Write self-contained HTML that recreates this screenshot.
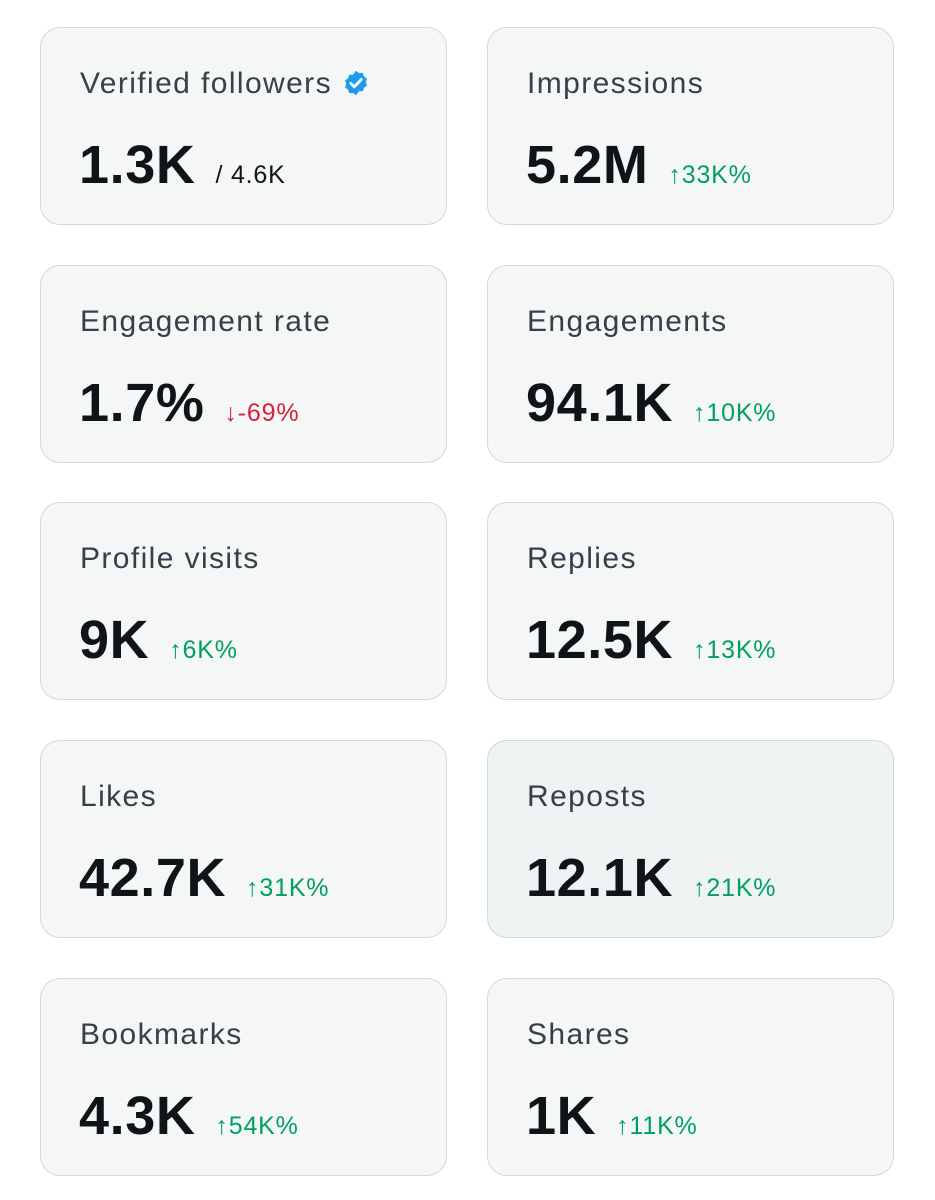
<!DOCTYPE html>
<html><head><meta charset="utf-8"><style>
body{margin:0;width:935px;height:1200px;background:#fff;font-family:"Liberation Sans",sans-serif;position:relative;overflow:hidden}
.card{position:absolute;width:405px;height:196px;border:1.5px solid #cfd9de;border-radius:20px;background:#f5f7f7;box-sizing:content-box}
.card.hl{background:#eff3f4}
.lbl{position:absolute;left:39px;top:41px;font-size:30px;letter-spacing:1.4px;color:#36404a;white-space:nowrap;line-height:1}
.row{position:absolute;left:38px;top:110px;white-space:nowrap;line-height:1;display:flex;align-items:baseline}
.val{font-size:54px;font-weight:bold;color:#0f1419;letter-spacing:0.6px}
.sub{font-size:25px;margin-left:20px;color:#0f1419;letter-spacing:0.8px}
.up{color:#00a15f}.down{color:#d6203a}
.badge{display:inline-block;vertical-align:-4px;margin-left:10px}
</style></head><body>
<div class="card" style="left:40px;top:27px">
 <div class="lbl">Verified followers<svg class="badge" width="28" height="28" viewBox="0 0 24 24"><path d="M12 1.5l2.6 1.9 3.2-.1 1 3 2.6 1.9-1 3 1 3-2.6 1.9-1 3-3.2-.1L12 22.5l-2.6-1.9-3.2.1-1-3-2.6-1.9 1-3-1-3 2.6-1.9 1-3 3.2.1z" fill="#1d9bf0"/><path d="M7.5 12.3l3 3 6-6.3" stroke="#fff" stroke-width="2.4" fill="none" stroke-linecap="round" stroke-linejoin="round"/></svg></div>
 <div class="row"><span class="val">1.3K</span><span class="sub">/ 4.6K</span></div>
</div>
<div class="card" style="left:487px;top:27px">
 <div class="lbl">Impressions</div>
 <div class="row"><span class="val">5.2M</span><span class="sub up">↑33K%</span></div>
</div>
<div class="card" style="left:40px;top:265px">
 <div class="lbl">Engagement rate</div>
 <div class="row"><span class="val">1.7%</span><span class="sub down">↓-69%</span></div>
</div>
<div class="card" style="left:487px;top:265px">
 <div class="lbl">Engagements</div>
 <div class="row"><span class="val">94.1K</span><span class="sub up">↑10K%</span></div>
</div>
<div class="card" style="left:40px;top:502px">
 <div class="lbl">Profile visits</div>
 <div class="row"><span class="val">9K</span><span class="sub up">↑6K%</span></div>
</div>
<div class="card" style="left:487px;top:502px">
 <div class="lbl">Replies</div>
 <div class="row"><span class="val">12.5K</span><span class="sub up">↑13K%</span></div>
</div>
<div class="card" style="left:40px;top:740px">
 <div class="lbl">Likes</div>
 <div class="row"><span class="val">42.7K</span><span class="sub up">↑31K%</span></div>
</div>
<div class="card hl" style="left:487px;top:740px">
 <div class="lbl">Reposts</div>
 <div class="row"><span class="val">12.1K</span><span class="sub up">↑21K%</span></div>
</div>
<div class="card" style="left:40px;top:978px">
 <div class="lbl">Bookmarks</div>
 <div class="row"><span class="val">4.3K</span><span class="sub up">↑54K%</span></div>
</div>
<div class="card" style="left:487px;top:978px">
 <div class="lbl">Shares</div>
 <div class="row"><span class="val">1K</span><span class="sub up">↑11K%</span></div>
</div>
</body></html>
